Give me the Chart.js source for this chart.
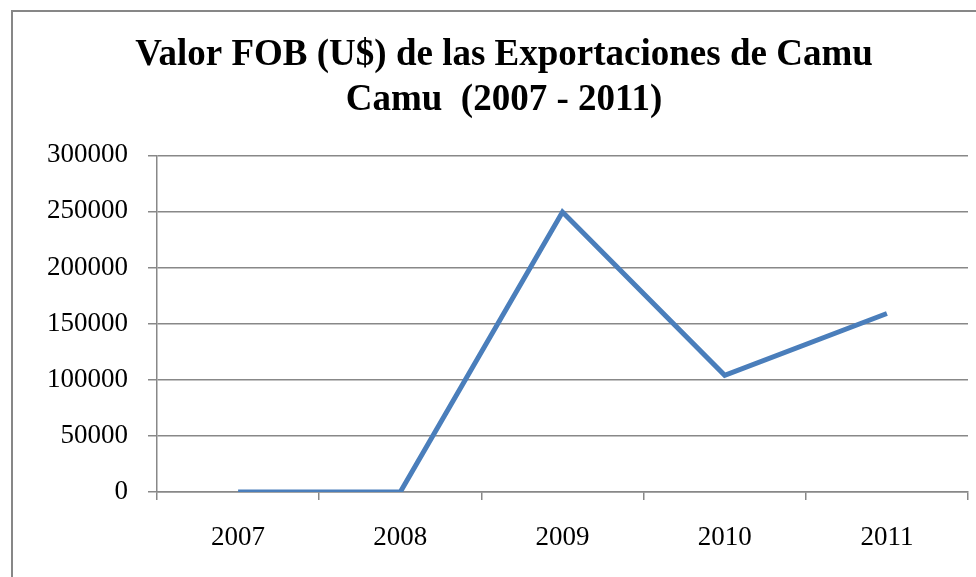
<!DOCTYPE html>
<html>
<head>
<meta charset="utf-8">
<script src="https://cdn.jsdelivr.net/npm/chart.js@4.4.0/dist/chart.umd.min.js"></script>
<style>
  html, body { margin: 0; padding: 0; background: #fff; overflow: hidden; }
  #wrap { position: relative; width: 976px; height: 577px; }
  #frame { position: absolute; left: 11px; top: 10px; width: 1000px; height: 600px; border: 2px solid #878787; pointer-events: none; }
</style>
</head>
<body>
<div id="wrap">
  <canvas id="fobChart" width="976" height="577"></canvas>
  <div id="frame"></div>
</div>
<script>
const years = ['2007', '2008', '2009', '2010', '2011'];
const fobValues = [0, 0, 249500, 104000, 159000];
const yTicks = [0, 50000, 100000, 150000, 200000, 250000, 300000];

const serif = 'Liberation Serif';
const gridGrey = '#888888';

const chartFob = document.getElementById('fobChart');
new Chart(chartFob, {
    type: 'line',
    data: {
        labels: years,
        datasets: [{
            label: 'Valor FOB',
            data: fobValues,
            borderColor: '#4a7ebb',
            borderWidth: 5,
            pointRadius: 0,
            tension: 0,
            fill: false
        }]
    },
    options: {
        responsive: false,
        animation: false,
        layout: { padding: { left: 40, right: 8, top: 0, bottom: 0 } },
        plugins: {
            legend: { display: false },
            tooltip: { enabled: false },
            title: {
                display: true,
                text: ['Valor FOB (U$) de las Exportaciones de Camu', 'Camu  (2007 - 2011)'],
                color: '#000',
                font: { family: serif, size: 37, weight: 'bold', lineHeight: 1.22 },
                padding: { top: 33, bottom: 32 }
            }
        },
        scales: {
            x: {
                type: 'category',
                offset: true,
                grid: {
                    display: true,
                    offset: true,
                    drawOnChartArea: false,
                    drawTicks: true,
                    tickLength: 8,
                    color: gridGrey,
                    lineWidth: 1.5
                },
                border: { display: true, color: gridGrey, width: 1.5 },
                ticks: {
                    color: '#000',
                    font: { family: serif, size: 27 },
                    padding: 22,
                    maxRotation: 0
                },
                afterFit: (scale) => { scale.height = 85; }
            },
            y: {
                min: 0,
                max: 300000,
                afterBuildTicks: (scale) => { scale.ticks = yTicks.map(v => ({ value: v })); },
                grid: {
                    color: gridGrey,
                    lineWidth: 1.5,
                    drawTicks: true,
                    tickLength: 9
                },
                border: { display: true, color: gridGrey, width: 1.5 },
                ticks: {
                    color: '#000',
                    font: { family: serif, size: 27 },
                    padding: 20,
                    callback: (value) => String(value)
                },
                afterFit: (scale) => { scale.width = 117; }
            }
        }
    }
});
</script>
</body>
</html>
